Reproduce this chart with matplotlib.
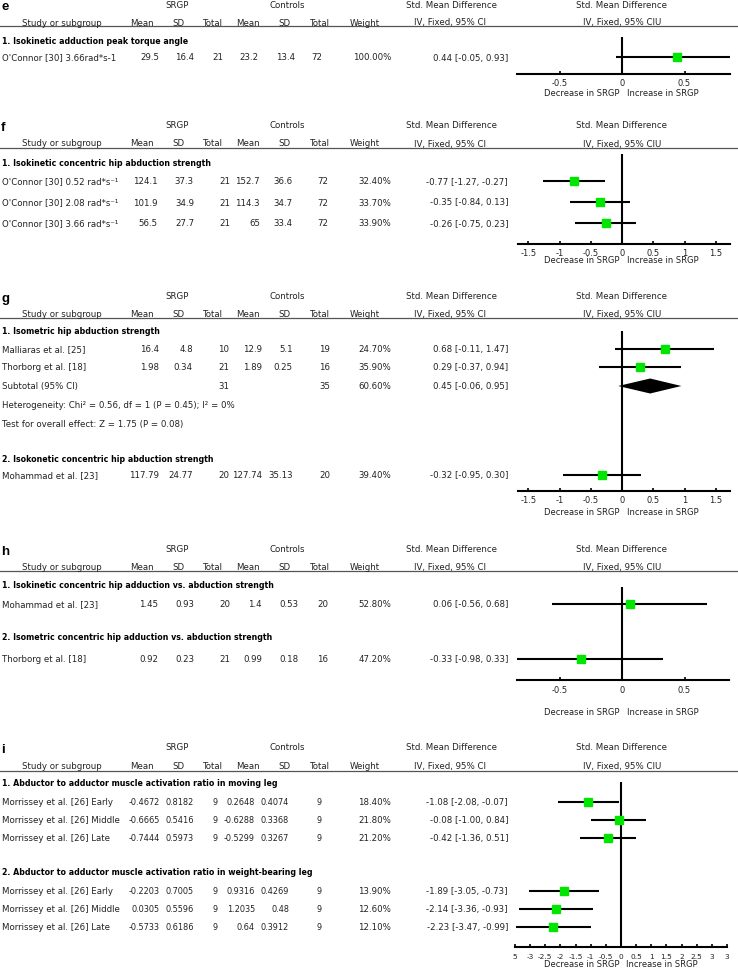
import matplotlib
matplotlib.use('Agg')
import matplotlib.pyplot as plt
from matplotlib.transforms import blended_transform_factory

# ---------------- data ----------------
# panel e
e_sub = ["1. Isokinetic adduction peak torque angle"]
e_study = ["O'Connor [30] 3.66rad*s-1"]
e_m1 = [29.5]; e_sd1 = [16.4]; e_n1 = [21]
e_m2 = [23.2]; e_sd2 = [13.4]; e_n2 = [72]
e_w = [100.00]; e_smd = [0.44]; e_lo = [-0.05]; e_hi = [0.93]
e_ticks = [-0.5, 0, 0.5]; e_ticklabels = ["-0.5", "0", "0.5"]

# panel f
f_sub = ["1. Isokinetic concentric hip abduction strength"]
f_study = ["O'Connor [30] 0.52 rad*s\u207b\u00b9", "O'Connor [30] 2.08 rad*s\u207b\u00b9",
           "O'Connor [30] 3.66 rad*s\u207b\u00b9"]
f_m1 = [124.1, 101.9, 56.5]; f_sd1 = [37.3, 34.9, 27.7]; f_n1 = [21, 21, 21]
f_m2 = [152.7, 114.3, 65]; f_sd2 = [36.6, 34.7, 33.4]; f_n2 = [72, 72, 72]
f_w = [32.40, 33.70, 33.90]
f_smd = [-0.77, -0.35, -0.26]; f_lo = [-1.27, -0.84, -0.75]; f_hi = [-0.27, 0.13, 0.23]
f_ticks = [-1.5, -1, -0.5, 0, 0.5, 1, 1.5]
f_ticklabels = ["-1.5", "-1", "-0.5", "0", "0.5", "1", "1.5"]

# panel g
g_sub = ["1. Isometric hip abduction strength", "2. Isokonetic concentric hip abduction strength"]
g1_study = ["Malliaras et al. [25]", "Thorborg et al. [18]"]
g1_m1 = [16.4, 1.98]; g1_sd1 = [4.8, 0.34]; g1_n1 = [10, 21]
g1_m2 = [12.9, 1.89]; g1_sd2 = [5.1, 0.25]; g1_n2 = [19, 16]
g1_w = [24.70, 35.90]; g1_smd = [0.68, 0.29]; g1_lo = [-0.11, -0.37]; g1_hi = [1.47, 0.94]
g_subtotal_n1 = 31; g_subtotal_n2 = 35; g_subtotal_w = 60.60
g_subtotal_smd = 0.45; g_subtotal_lo = -0.06; g_subtotal_hi = 0.95
g_het = "Heterogeneity: Chi\u00b2 = 0.56, df = 1 (P = 0.45); I\u00b2 = 0%"
g_test = "Test for overall effect: Z = 1.75 (P = 0.08)"
g2_study = ["Mohammad et al. [23]"]
g2_m1 = [117.79]; g2_sd1 = [24.77]; g2_n1 = [20]
g2_m2 = [127.74]; g2_sd2 = [35.13]; g2_n2 = [20]
g2_w = [39.40]; g2_smd = [-0.32]; g2_lo = [-0.95]; g2_hi = [0.30]

# panel h
h_sub = ["1. Isokinetic concentric hip adduction vs. abduction strength",
         "2. Isometric concentric hip adduction vs. abduction strength"]
h1_study = ["Mohammad et al. [23]"]
h1_m1 = [1.45]; h1_sd1 = [0.93]; h1_n1 = [20]; h1_m2 = [1.4]; h1_sd2 = [0.53]; h1_n2 = [20]
h1_w = [52.80]; h1_smd = [0.06]; h1_lo = [-0.56]; h1_hi = [0.68]
h2_study = ["Thorborg et al. [18]"]
h2_m1 = [0.92]; h2_sd1 = [0.23]; h2_n1 = [21]; h2_m2 = [0.99]; h2_sd2 = [0.18]; h2_n2 = [16]
h2_w = [47.20]; h2_smd = [-0.33]; h2_lo = [-0.98]; h2_hi = [0.33]

# panel i
i_sub = ["1. Abductor to adductor muscle activation ratio in moving leg",
         "2. Abductor to adductor muscle activation ratio in weight-bearing leg"]
i1_study = ["Morrissey et al. [26] Early", "Morrissey et al. [26] Middle", "Morrissey et al. [26] Late"]
i1_m1 = [-0.4672, -0.6665, -0.7444]; i1_sd1 = [0.8182, 0.5416, 0.5973]; i1_n1 = [9, 9, 9]
i1_m2 = [0.2648, -0.6288, -0.5299]; i1_sd2 = [0.4074, 0.3368, 0.3267]; i1_n2 = [9, 9, 9]
i1_w = [18.40, 21.80, 21.20]
i1_smd = [-1.08, -0.08, -0.42]; i1_lo = [-2.08, -1.00, -1.36]; i1_hi = [-0.07, 0.84, 0.51]
i2_study = ["Morrissey et al. [26] Early", "Morrissey et al. [26] Middle", "Morrissey et al. [26] Late"]
i2_m1 = [-0.2203, 0.0305, -0.5733]; i2_sd1 = [0.7005, 0.5596, 0.6186]; i2_n1 = [9, 9, 9]
i2_m2 = [0.9316, 1.2035, 0.64]; i2_sd2 = [0.4269, 0.48, 0.3912]; i2_n2 = [9, 9, 9]
i2_w = [13.90, 12.60, 12.10]
i2_smd = [-1.89, -2.14, -2.23]; i2_lo = [-3.05, -3.36, -3.47]; i2_hi = [-0.73, -0.93, -0.99]
i_ticks = [-3.5, -3, -2.5, -2, -1.5, -1, -0.5, 0, 0.5, 1, 1.5, 2, 2.5, 3, 3.5]
i_ticklabels = ["5", "-3", "-2.5", "-2", "-1.5", "-1", "-0.5", "0", "0.5", "1", "1.5",
                "2", "2.5", "3", "3"]

# ---------------- layout / style ----------------
W, H = 738, 970
FS = 6.2
SUBFS = 5.7
AXFS = 6.0
TXT = '#222222'
GREEN = '#00e600'

fig = plt.figure(figsize=(W / 100, H / 100), dpi=100)
canvas = fig.add_axes([0, 0, 1, 1])
canvas.set_xlim(0, W)
canvas.set_ylim(H, 0)
canvas.axis('off')


def t(x, y, s, ha='left', fs=FS, **kw):
    kw.setdefault('color', TXT)
    kw.setdefault('va', 'center')
    canvas.text(x, y, s, ha=ha, fontsize=fs, **kw)


def fmt(v):
    return f"{v:g}"


def header(letter, y0, y1, yline):
    t(1, y0 - 4, letter, fs=9.5, fontweight='bold', family='Liberation Sans',
      color='black', va='top')
    t(177, y0, 'SRGP', ha='center')
    t(287, y0, 'Controls', ha='center')
    t(451, y0, 'Std. Mean Difference', ha='center')
    t(622, y0, 'Std. Mean Difference', ha='center')
    for x, s in [(62, 'Study or subgroup'), (142, 'Mean'), (178, 'SD'), (213, 'Total'),
                 (248, 'Mean'), (284, 'SD'), (320, 'Total'), (365, 'Weight'),
                 (450, 'IV, Fixed, 95% CI'), (622, 'IV, Fixed, 95% CIU')]:
        t(x, y1, s, ha='center')
    canvas.plot([0, W], [yline, yline], color='#555555', lw=0.9)


def rows(ys, cols, study, m1, sd1, n1, m2, sd2, n2, w, smd, lo, hi, fs=FS):
    for k, y in enumerate(ys):
        t(2, y, study[k])
        vals = [fmt(m1[k]), fmt(sd1[k]), str(n1[k]), fmt(m2[k]), fmt(sd2[k]), str(n2[k])]
        for x, v in zip(cols, vals):
            t(x, y, v, ha='right', fs=fs)
        t(391, y, f"{w[k]:.2f}%", ha='right')
        t(508, y, f"{smd[k]:.2f} [{lo[k]:.2f}, {hi[k]:.2f}]", ha='right')


def forest(x0, x1, y_top, y_axis, xlim, ticks, labels, tick_y, dec_y, tfs=AXFS):
    ax = fig.add_axes([x0 / W, 1 - y_axis / H, (x1 - x0) / W, (y_axis - y_top) / H])
    ax.set_xlim(*xlim)
    ax.set_ylim(y_axis, y_top)
    ax.patch.set_visible(False)
    for s in ['top', 'left', 'right']:
        ax.spines[s].set_visible(False)
    ax.spines['bottom'].set_linewidth(1.5)
    ax.set_yticks([])
    ax.set_xticks(ticks)
    ax.set_xticklabels([])
    ax.tick_params(axis='x', direction='in', length=2.5, width=1.2, color='black')
    ax.axvline(0, color='black', lw=1.5, zorder=2)
    bt = blended_transform_factory(ax.transData, canvas.transData)
    for tk, lb in zip(ticks, labels):
        canvas.text(tk, tick_y, lb, transform=bt, ha='center', va='center',
                    fontsize=tfs, color=TXT)
    canvas.annotate('Decrease in SRGP', xy=(0, dec_y), xycoords=bt, xytext=(-2, 0),
                    textcoords='offset pixels', ha='right', va='center', fontsize=AXFS, color=TXT)
    canvas.annotate('Increase in SRGP', xy=(0, dec_y), xycoords=bt, xytext=(5, 0),
                    textcoords='offset pixels', ha='left', va='center', fontsize=AXFS, color=TXT)
    return ax


def points(ax, ys, smd, lo, hi):
    for y, m, l, h in zip(ys, smd, lo, hi):
        ax.plot([l, h], [y, y], color='black', lw=1.5, solid_capstyle='butt', zorder=3)
        ax.plot([m], [y], marker='s', ms=5.8, color=GREEN, mec=GREEN, ls='none', zorder=4)


# ---------------- panel e ----------------
header('e', 5, 23, 27)
t(2, 42, e_sub[0], fs=SUBFS, fontweight='bold', color='black')
e_y = [58]
rows(e_y, (159, 194, 223, 258, 295, 322), e_study, e_m1, e_sd1, e_n1, e_m2, e_sd2, e_n2,
     e_w, e_smd, e_lo, e_hi)
ax_e = forest(517, 730, 38, 75, (-0.84, 0.864), e_ticks, e_ticklabels, 83, 93)
points(ax_e, e_y, e_smd, e_lo, e_hi)

# ---------------- panel f ----------------
header('f', 126, 144, 149)
t(2, 163, f_sub[0], fs=SUBFS, fontweight='bold', color='black')
f_y = [182, 203, 224]
rows(f_y, (158, 194, 230, 260, 293, 328), f_study, f_m1, f_sd1, f_n1, f_m2, f_sd2, f_n2,
     f_w, f_smd, f_lo, f_hi)
ax_f = forest(518, 730, 155, 245, (-1.664, 1.728), f_ticks, f_ticklabels, 253, 261)
points(ax_f, f_y, f_smd, f_lo, f_hi)

# ---------------- panel g ----------------
header('g', 297, 315, 319)
g_cols = (159, 193, 229, 262, 293, 330)
t(2, 332, g_sub[0], fs=SUBFS, fontweight='bold', color='black')
g1_y = [350, 368]
rows(g1_y, g_cols, g1_study, g1_m1, g1_sd1, g1_n1, g1_m2, g1_sd2, g1_n2,
     g1_w, g1_smd, g1_lo, g1_hi)
gs_y = 387
t(2, gs_y, 'Subtotal (95% CI)')
t(g_cols[2], gs_y, str(g_subtotal_n1), ha='right')
t(g_cols[5], gs_y, str(g_subtotal_n2), ha='right')
t(391, gs_y, f"{g_subtotal_w:.2f}%", ha='right')
t(508, gs_y, f"{g_subtotal_smd:.2f} [{g_subtotal_lo:.2f}, {g_subtotal_hi:.2f}]", ha='right')
t(2, 406, g_het)
t(2, 425, g_test)
t(2, 460, g_sub[1], fs=SUBFS, fontweight='bold', color='black')
g2_y = [476]
rows(g2_y, g_cols, g2_study, g2_m1, g2_sd1, g2_n1, g2_m2, g2_sd2, g2_n2,
     g2_w, g2_smd, g2_lo, g2_hi)
ax_g = forest(518, 730, 332, 492, (-1.664, 1.728), f_ticks, f_ticklabels, 501, 513)
points(ax_g, g1_y, g1_smd, g1_lo, g1_hi)
points(ax_g, g2_y, g2_smd, g2_lo, g2_hi)
ax_g.fill([g_subtotal_lo, g_subtotal_smd, g_subtotal_hi, g_subtotal_smd],
          [gs_y, gs_y - 7.5, gs_y, gs_y + 7.5], color='black', lw=0, zorder=4)

# ---------------- panel h ----------------
header('h', 550, 568, 572)
h_cols = (158, 194, 230, 262, 298, 328)
t(2, 586, h_sub[0], fs=SUBFS, fontweight='bold', color='black')
h1_y = [605]
rows(h1_y, h_cols, h1_study, h1_m1, h1_sd1, h1_n1, h1_m2, h1_sd2, h1_n2,
     h1_w, h1_smd, h1_lo, h1_hi)
t(2, 638, h_sub[1], fs=SUBFS, fontweight='bold', color='black')
h2_y = [660]
rows(h2_y, h_cols, h2_study, h2_m1, h2_sd1, h2_n1, h2_m2, h2_sd2, h2_n2,
     h2_w, h2_smd, h2_lo, h2_hi)
ax_h = forest(517, 729, 588, 681, (-0.84, 0.856), e_ticks, e_ticklabels, 691, 713)
points(ax_h, h1_y, h1_smd, h1_lo, h1_hi)
points(ax_h, h2_y, h2_smd, h2_lo, h2_hi)

# ---------------- panel i ----------------
header('i', 748, 767, 772)
i_cols = (160, 194, 218, 255, 289, 322)
t(2, 784, i_sub[0], fs=SUBFS, fontweight='bold', color='black')
i1_y = [803, 821, 839]
rows(i1_y, i_cols, i1_study, i1_m1, i1_sd1, i1_n1, i1_m2, i1_sd2, i1_n2,
     i1_w, i1_smd, i1_lo, i1_hi, fs=5.9)
t(2, 873, i_sub[1], fs=SUBFS, fontweight='bold', color='black')
i2_y = [892, 910, 928]
rows(i2_y, i_cols, i2_study, i2_m1, i2_sd1, i2_n1, i2_m2, i2_sd2, i2_n2,
     i2_w, i2_smd, i2_lo, i2_hi, fs=5.9)
ax_i = forest(515, 727, 783, 948, (-3.5, 3.5), i_ticks, i_ticklabels, 957, 965, tfs=5.3)
points(ax_i, i1_y, i1_smd, i1_lo, i1_hi)
points(ax_i, i2_y, i2_smd, i2_lo, i2_hi)

fig.savefig('out.png', dpi=100)
